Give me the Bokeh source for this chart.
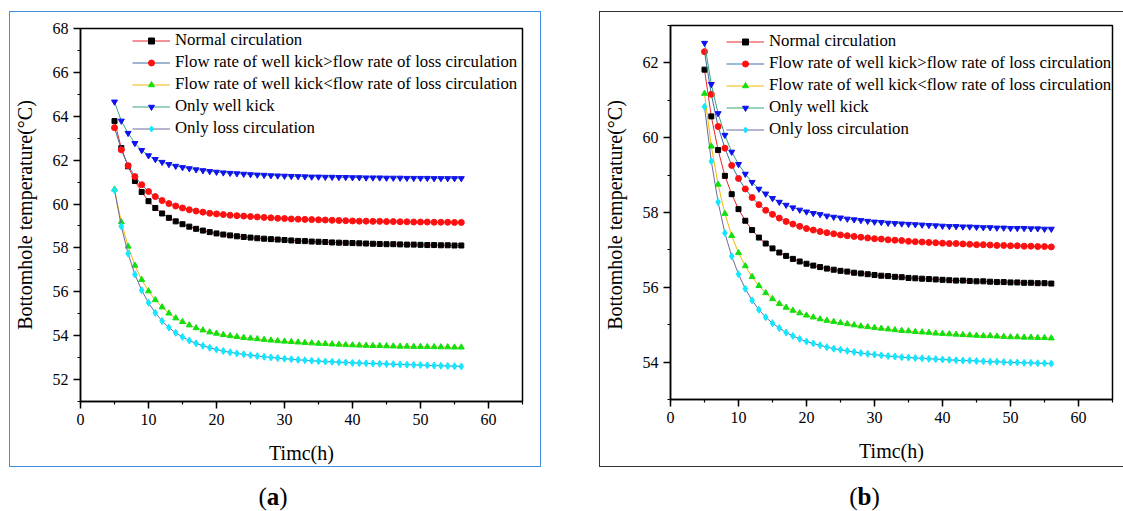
from bokeh.plotting import figure
from bokeh.models import (Range1d, SingleIntervalTicker, Legend, LegendItem, Div)
from bokeh.layouts import row, column
from bokeh.embed import file_html
from bokeh.resources import INLINE

# ---------------- data ----------------
time_h = [5, 6, 7, 8, 9, 10, 11, 12, 13, 14, 15, 16, 17, 18, 19, 20, 21, 22, 23, 24,
          25, 26, 27, 28, 29, 30, 31, 32, 33, 34, 35, 36, 37, 38, 39, 40, 41, 42, 43, 44,
          45, 46, 47, 48, 49, 50, 51, 52, 53, 54, 55, 56]

series_names = [
    "Normal circulation",
    "Flow rate of well kick>flow rate of loss circulation",
    "Flow rate of well kick<flow rate of loss circulation",
    "Only well kick",
    "Only loss circulation",
]

# panel (a)
a_normal = [63.78, 62.55, 61.72, 61.05, 60.55, 60.13, 59.82, 59.57, 59.37, 59.21, 59.08, 58.97,
            58.87, 58.79, 58.72, 58.66, 58.61, 58.57, 58.53, 58.50, 58.47, 58.44, 58.42, 58.40,
            58.38, 58.36, 58.34, 58.32, 58.31, 58.29, 58.28, 58.27, 58.25, 58.24, 58.23, 58.22,
            58.21, 58.20, 58.19, 58.18, 58.17, 58.17, 58.16, 58.15, 58.15, 58.14, 58.13, 58.13,
            58.12, 58.12, 58.11, 58.11]
a_kick_gt_loss = [63.48, 62.47, 61.75, 61.25, 60.88, 60.57, 60.34, 60.16, 60.02, 59.91, 59.82, 59.74,
                  59.68, 59.63, 59.58, 59.55, 59.52, 59.49, 59.47, 59.45, 59.43, 59.41, 59.39, 59.37,
                  59.35, 59.34, 59.32, 59.31, 59.30, 59.29, 59.28, 59.27, 59.26, 59.25, 59.24, 59.23,
                  59.22, 59.22, 59.21, 59.21, 59.20, 59.20, 59.19, 59.19, 59.18, 59.18, 59.18, 59.17,
                  59.17, 59.17, 59.16, 59.16]
a_kick_lt_loss = [60.67, 59.18, 58.07, 57.20, 56.55, 56.03, 55.63, 55.30, 55.02, 54.80, 54.63, 54.48,
                  54.35, 54.25, 54.16, 54.10, 54.04, 53.99, 53.95, 53.91, 53.88, 53.85, 53.82, 53.79,
                  53.76, 53.74, 53.72, 53.70, 53.68, 53.66, 53.64, 53.63, 53.61, 53.60, 53.58, 53.57,
                  53.56, 53.55, 53.54, 53.54, 53.53, 53.52, 53.51, 53.51, 53.50, 53.50, 53.49, 53.49,
                  53.48, 53.48, 53.47, 53.47]
a_only_kick = [64.66, 63.79, 63.23, 62.77, 62.45, 62.21, 62.04, 61.91, 61.81, 61.73, 61.67, 61.62,
               61.57, 61.53, 61.49, 61.46, 61.43, 61.41, 61.39, 61.37, 61.35, 61.33, 61.32, 61.30,
               61.29, 61.28, 61.27, 61.26, 61.25, 61.24, 61.24, 61.23, 61.23, 61.22, 61.22, 61.21,
               61.21, 61.20, 61.20, 61.20, 61.19, 61.19, 61.19, 61.18, 61.18, 61.18, 61.18, 61.17,
               61.17, 61.17, 61.17, 61.17]
a_only_loss = [60.63, 58.98, 57.74, 56.79, 56.07, 55.50, 55.04, 54.67, 54.37, 54.13, 53.94, 53.78,
               53.65, 53.54, 53.45, 53.37, 53.30, 53.24, 53.19, 53.15, 53.11, 53.07, 53.04, 53.01,
               52.98, 52.95, 52.93, 52.90, 52.88, 52.86, 52.84, 52.82, 52.81, 52.79, 52.78, 52.76,
               52.75, 52.74, 52.73, 52.72, 52.71, 52.70, 52.69, 52.68, 52.67, 52.66, 52.65, 52.64,
               52.63, 52.62, 52.61, 52.60]

# panel (b)
b_normal = [61.82, 60.57, 59.67, 58.98, 58.49, 58.09, 57.78, 57.53, 57.33, 57.17, 57.04, 56.93,
            56.84, 56.76, 56.69, 56.63, 56.58, 56.54, 56.50, 56.47, 56.44, 56.42, 56.39, 56.37,
            56.35, 56.33, 56.31, 56.30, 56.28, 56.27, 56.25, 56.24, 56.23, 56.22, 56.21, 56.20,
            56.19, 56.18, 56.18, 56.17, 56.16, 56.16, 56.15, 56.14, 56.14, 56.13, 56.13, 56.12,
            56.12, 56.11, 56.11, 56.10]
b_kick_gt_loss = [62.30, 61.16, 60.30, 59.72, 59.26, 58.91, 58.63, 58.40, 58.21, 58.06, 57.95, 57.85,
                  57.76, 57.69, 57.63, 57.57, 57.53, 57.49, 57.46, 57.43, 57.40, 57.38, 57.36, 57.34,
                  57.32, 57.30, 57.29, 57.27, 57.26, 57.25, 57.23, 57.22, 57.21, 57.20, 57.19, 57.18,
                  57.17, 57.17, 57.16, 57.15, 57.14, 57.14, 57.13, 57.12, 57.12, 57.11, 57.11, 57.10,
                  57.10, 57.09, 57.09, 57.08]
b_kick_lt_loss = [61.18, 59.77, 58.75, 57.97, 57.38, 56.92, 56.57, 56.28, 56.04, 55.85, 55.69, 55.56,
                  55.46, 55.38, 55.31, 55.25, 55.20, 55.15, 55.11, 55.08, 55.05, 55.02, 54.99, 54.96,
                  54.94, 54.92, 54.90, 54.88, 54.86, 54.84, 54.83, 54.81, 54.80, 54.79, 54.77, 54.76,
                  54.75, 54.74, 54.73, 54.72, 54.71, 54.70, 54.70, 54.69, 54.68, 54.67, 54.67, 54.66,
                  54.66, 54.65, 54.65, 54.64]
b_only_kick = [62.53, 61.43, 60.65, 60.07, 59.62, 59.29, 59.03, 58.81, 58.63, 58.50, 58.38, 58.28,
               58.20, 58.13, 58.07, 58.02, 57.98, 57.95, 57.91, 57.88, 57.86, 57.83, 57.81, 57.79,
               57.77, 57.75, 57.74, 57.72, 57.71, 57.70, 57.69, 57.68, 57.67, 57.66, 57.65, 57.64,
               57.63, 57.63, 57.62, 57.62, 57.61, 57.60, 57.60, 57.59, 57.59, 57.58, 57.58, 57.58,
               57.57, 57.57, 57.56, 57.56]
b_only_loss = [60.83, 59.37, 58.28, 57.45, 56.83, 56.35, 55.96, 55.65, 55.40, 55.20, 55.04, 54.91,
               54.79, 54.70, 54.62, 54.55, 54.50, 54.45, 54.40, 54.36, 54.33, 54.30, 54.27, 54.24,
               54.22, 54.20, 54.18, 54.16, 54.15, 54.13, 54.12, 54.11, 54.10, 54.09, 54.08, 54.07,
               54.06, 54.05, 54.04, 54.04, 54.03, 54.02, 54.01, 54.01, 54.00, 53.99, 53.99, 53.98,
               53.98, 53.97, 53.97, 53.96]

x_label = "Timc(h)"
y_label_a = "Bottomhole temperature(°C)"
y_label_b = "Bottomhole  temperature(°C)"

# ---------------- style ----------------
SERIF = "Liberation Serif"
line_colors = ["#e8262a", "#3a6ea5", "#f2b600", "#35a77a", "#6b6b9e"]
marker_colors = ["#000000", "#ff1010", "#10e010", "#1010f0", "#10e8ff"]
markers = ["square", "circle", "triangle", "inverted_triangle", "diamond"]
msizes = [5, 6, 6, 6, 7]


def make_panel(width, height, ymin, ymax, series, ylabel, mb_left, mb_right, mb_top,
               mb_bottom, legend_loc, border_color, margin):
    p = figure(width=width, height=height, x_range=Range1d(0, 65), y_range=Range1d(ymin, ymax),
               output_backend="svg", toolbar_location=None,
               min_border_left=mb_left, min_border_right=mb_right,
               min_border_top=mb_top, min_border_bottom=mb_bottom,
               margin=margin,
               styles={"outline": "1.6px solid " + border_color, "outline-offset": "0px"})
    p.background_fill_color = "white"
    p.border_fill_color = "white"
    p.outline_line_color = "black"
    p.outline_line_width = 1.5
    p.xgrid.visible = False
    p.ygrid.visible = False

    p.xaxis.ticker = SingleIntervalTicker(interval=10, num_minor_ticks=2)
    p.yaxis.ticker = SingleIntervalTicker(interval=2, num_minor_ticks=2)
    for ax in (p.xaxis[0], p.yaxis[0]):
        ax.axis_line_width = 1.5
        ax.axis_line_color = "black"
        ax.major_tick_line_color = "black"
        ax.minor_tick_line_color = "black"
        ax.major_tick_line_width = 1.5
        ax.minor_tick_line_width = 1.2
        ax.major_tick_in = 0
        ax.major_tick_out = 7
        ax.minor_tick_in = 0
        ax.minor_tick_out = 3
        ax.major_label_text_font = SERIF
        ax.major_label_text_font_size = "16px"
        ax.major_label_text_color = "black"
        ax.major_label_standoff = 5
        ax.axis_label_text_font = SERIF
        ax.axis_label_text_font_size = "20px"
        ax.axis_label_text_font_style = "normal"
        ax.axis_label_text_color = "black"
    p.xaxis.axis_label = x_label
    p.yaxis.axis_label = ylabel
    p.xaxis.axis_label_standoff = 14
    p.yaxis.axis_label_standoff = 14

    items = []
    for i, vals in enumerate(series):
        lr = p.line(time_h, vals, line_color=line_colors[i], line_width=1)
        sr = p.scatter(time_h, vals, marker=markers[i], size=msizes[i],
                       fill_color=marker_colors[i], line_color=marker_colors[i])
        items.append(LegendItem(label=series_names[i], renderers=[lr, sr]))

    legend = Legend(items=items, location=legend_loc, orientation="vertical",
                    glyph_width=38, glyph_height=15, label_height=22, spacing=0,
                    label_standoff=5, padding=0, margin=0,
                    border_line_color=None, background_fill_alpha=0,
                    label_text_font=SERIF, label_text_font_size="16.8px",
                    label_text_color="black")
    p.add_layout(legend)
    return p


def caption(letter, width, margin):
    return Div(text="(<b>" + letter + "</b>)", width=width, height=30, margin=margin,
               styles={"font-family": SERIF, "font-size": "25px", "text-align": "center",
                       "color": "black", "line-height": "30px"})


# figure a occupies page x 10..540, y 12..466 ; frame 78..522 x 28..402
pa = make_panel(530, 454, 51, 68,
                [a_normal, a_kick_gt_loss, a_kick_lt_loss, a_only_kick, a_only_loss],
                y_label_a, 68, 18, 16, 64, (52, 262), "#3d8fe0", (12, 0, 0, 10))
# figure b occupies page x 600..1123, y 12..466 ; frame 668..1112 x 25..399
pb = make_panel(523, 454, 53, 63,
                [b_normal, b_kick_gt_loss, b_kick_lt_loss, b_only_kick, b_only_loss],
                y_label_b, 68, 11, 13, 67, (56, 259), "#333333", (12, 0, 0, 60))

cap_a = caption("a", 530, (16, 0, 0, 8))
cap_b = caption("b", 523, (16, 0, 0, 63))

layout = row(column(pa, cap_a, spacing=0), column(pb, cap_b, spacing=0), spacing=0)
open("out.html", "w").write(file_html(layout, INLINE))
